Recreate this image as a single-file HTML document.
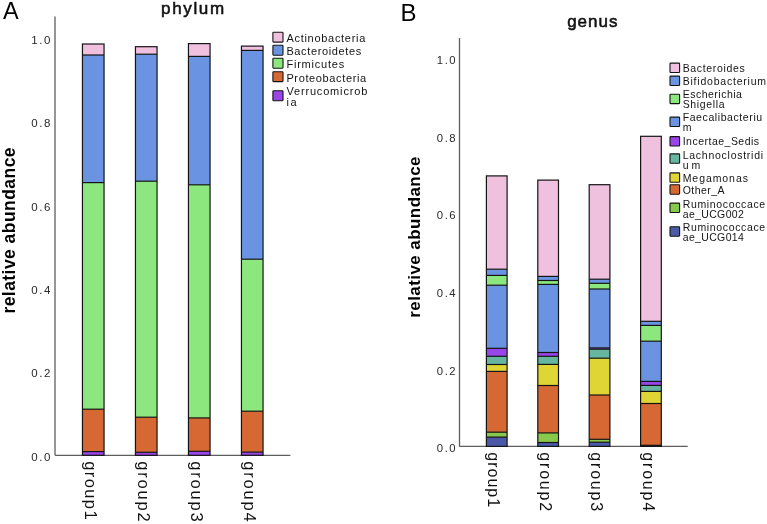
<!DOCTYPE html><html><head><meta charset="utf-8"><style>html,body{margin:0;padding:0;background:#fff;}svg{display:block;will-change:transform;}text{font-family:"Liberation Sans", sans-serif;}</style></head><body>
<svg width="767" height="524" viewBox="0 0 767 524">
<text x="3" y="18.6" font-size="23.5" fill="#000">A</text>
<text x="193.4" y="13.8" font-size="17" font-weight="normal" letter-spacing="1.65" stroke="#111" stroke-width="0.55" text-anchor="middle" fill="#111">phylum</text>
<line x1="55" y1="16.4" x2="55" y2="455.3" stroke="#5e5e5e" stroke-width="1.3"/>
<line x1="55" y1="455.3" x2="290.4" y2="455.3" stroke="#5e5e5e" stroke-width="1.3"/>
<text x="52.1" y="460.80" font-size="11.5" text-anchor="end" letter-spacing="1.6" fill="#2a2a2a">0.0</text>
<text x="52.1" y="377.40" font-size="11.5" text-anchor="end" letter-spacing="1.6" fill="#2a2a2a">0.2</text>
<text x="52.1" y="294.00" font-size="11.5" text-anchor="end" letter-spacing="1.6" fill="#2a2a2a">0.4</text>
<text x="52.1" y="210.60" font-size="11.5" text-anchor="end" letter-spacing="1.6" fill="#2a2a2a">0.6</text>
<text x="52.1" y="127.20" font-size="11.5" text-anchor="end" letter-spacing="1.6" fill="#2a2a2a">0.8</text>
<text x="52.1" y="43.80" font-size="11.5" text-anchor="end" letter-spacing="1.6" fill="#2a2a2a">1.0</text>
<rect x="82.45" y="44.00" width="21.60" height="11.00" fill="#efc1df"/>
<rect x="82.45" y="55.00" width="21.60" height="127.60" fill="#6a94e2"/>
<rect x="82.45" y="182.60" width="21.60" height="226.60" fill="#8ce87e"/>
<rect x="82.45" y="409.20" width="21.60" height="42.40" fill="#d66833"/>
<rect x="82.45" y="451.60" width="21.60" height="3.70" fill="#9a45ea"/>
<line x1="82.45" y1="55.00" x2="104.05" y2="55.00" stroke="#141414" stroke-width="1.2"/>
<line x1="82.45" y1="182.60" x2="104.05" y2="182.60" stroke="#141414" stroke-width="1.2"/>
<line x1="82.45" y1="409.20" x2="104.05" y2="409.20" stroke="#141414" stroke-width="1.2"/>
<line x1="82.45" y1="451.60" x2="104.05" y2="451.60" stroke="#141414" stroke-width="1.2"/>
<rect x="82.45" y="44.00" width="21.60" height="411.30" fill="none" stroke="#141414" stroke-width="1.2"/>
<rect x="135.45" y="46.70" width="21.60" height="7.50" fill="#efc1df"/>
<rect x="135.45" y="54.20" width="21.60" height="127.00" fill="#6a94e2"/>
<rect x="135.45" y="181.20" width="21.60" height="236.00" fill="#8ce87e"/>
<rect x="135.45" y="417.20" width="21.60" height="35.10" fill="#d66833"/>
<rect x="135.45" y="452.30" width="21.60" height="3.00" fill="#9a45ea"/>
<line x1="135.45" y1="54.20" x2="157.05" y2="54.20" stroke="#141414" stroke-width="1.2"/>
<line x1="135.45" y1="181.20" x2="157.05" y2="181.20" stroke="#141414" stroke-width="1.2"/>
<line x1="135.45" y1="417.20" x2="157.05" y2="417.20" stroke="#141414" stroke-width="1.2"/>
<line x1="135.45" y1="452.30" x2="157.05" y2="452.30" stroke="#141414" stroke-width="1.2"/>
<rect x="135.45" y="46.70" width="21.60" height="408.60" fill="none" stroke="#141414" stroke-width="1.2"/>
<rect x="188.45" y="43.60" width="21.60" height="12.80" fill="#efc1df"/>
<rect x="188.45" y="56.40" width="21.60" height="128.40" fill="#6a94e2"/>
<rect x="188.45" y="184.80" width="21.60" height="233.10" fill="#8ce87e"/>
<rect x="188.45" y="417.90" width="21.60" height="33.40" fill="#d66833"/>
<rect x="188.45" y="451.30" width="21.60" height="4.00" fill="#9a45ea"/>
<line x1="188.45" y1="56.40" x2="210.05" y2="56.40" stroke="#141414" stroke-width="1.2"/>
<line x1="188.45" y1="184.80" x2="210.05" y2="184.80" stroke="#141414" stroke-width="1.2"/>
<line x1="188.45" y1="417.90" x2="210.05" y2="417.90" stroke="#141414" stroke-width="1.2"/>
<line x1="188.45" y1="451.30" x2="210.05" y2="451.30" stroke="#141414" stroke-width="1.2"/>
<rect x="188.45" y="43.60" width="21.60" height="411.70" fill="none" stroke="#141414" stroke-width="1.2"/>
<rect x="241.45" y="46.10" width="21.60" height="4.30" fill="#efc1df"/>
<rect x="241.45" y="50.40" width="21.60" height="208.80" fill="#6a94e2"/>
<rect x="241.45" y="259.20" width="21.60" height="152.00" fill="#8ce87e"/>
<rect x="241.45" y="411.20" width="21.60" height="40.90" fill="#d66833"/>
<rect x="241.45" y="452.10" width="21.60" height="3.20" fill="#9a45ea"/>
<line x1="241.45" y1="50.40" x2="263.05" y2="50.40" stroke="#141414" stroke-width="1.2"/>
<line x1="241.45" y1="259.20" x2="263.05" y2="259.20" stroke="#141414" stroke-width="1.2"/>
<line x1="241.45" y1="411.20" x2="263.05" y2="411.20" stroke="#141414" stroke-width="1.2"/>
<line x1="241.45" y1="452.10" x2="263.05" y2="452.10" stroke="#141414" stroke-width="1.2"/>
<rect x="241.45" y="46.10" width="21.60" height="409.20" fill="none" stroke="#141414" stroke-width="1.2"/>
<text transform="translate(15.1,230.3) rotate(-90)" x="0" y="0" font-size="17.5" letter-spacing="0.45" font-weight="bold" text-anchor="middle" fill="#000">relative abundance</text>
<text transform="translate(85.20,461.2) rotate(90)" x="0" y="0" font-size="16.5" letter-spacing="1.4" fill="#111">group1</text>
<text transform="translate(138.10,461.2) rotate(90)" x="0" y="0" font-size="16.5" letter-spacing="1.8" fill="#111">group2</text>
<text transform="translate(191.00,461.2) rotate(90)" x="0" y="0" font-size="16.5" letter-spacing="1.8" fill="#111">group3</text>
<text transform="translate(243.90,461.2) rotate(90)" x="0" y="0" font-size="16.5" letter-spacing="1.8" fill="#111">group4</text>
<rect x="272.9" y="32.20" width="10.1" height="9.9" rx="0.6" fill="#efc1df" stroke="#141414" stroke-width="1.1"/>
<text x="286.4" y="42.10" font-size="11" letter-spacing="0.71" fill="#141414">Actinobacteria</text>
<rect x="272.9" y="45.30" width="10.1" height="9.9" rx="0.6" fill="#6a94e2" stroke="#141414" stroke-width="1.1"/>
<text x="286.4" y="55.00" font-size="11" letter-spacing="0.63" fill="#141414">Bacteroidetes</text>
<rect x="272.9" y="58.30" width="10.1" height="9.9" rx="0.6" fill="#8ce87e" stroke="#141414" stroke-width="1.1"/>
<text x="286.4" y="68.20" font-size="11" letter-spacing="0.79" fill="#141414">Firmicutes</text>
<rect x="272.9" y="71.70" width="10.1" height="9.9" rx="0.6" fill="#d66833" stroke="#141414" stroke-width="1.1"/>
<text x="286.4" y="81.50" font-size="11" letter-spacing="0.63" fill="#141414">Proteobacteria</text>
<rect x="272.9" y="90.80" width="10.1" height="9.9" rx="0.6" fill="#9a45ea" stroke="#141414" stroke-width="1.1"/>
<text x="286.4" y="94.70" font-size="11" letter-spacing="0.83" fill="#141414">Verrucomicrob</text>
<text x="286.4" y="105.60" font-size="11" letter-spacing="1.6" fill="#141414">ia</text>
<text x="400.4" y="20.5" font-size="24" fill="#000">B</text>
<text x="592.8" y="26.9" font-size="17" font-weight="normal" letter-spacing="1.0" stroke="#111" stroke-width="0.55" text-anchor="middle" fill="#111">genus</text>
<line x1="459.5" y1="38.1" x2="459.5" y2="446.4" stroke="#5e5e5e" stroke-width="1.3"/>
<line x1="459.5" y1="446.4" x2="687.7" y2="446.4" stroke="#5e5e5e" stroke-width="1.3"/>
<text x="457.2" y="452.20" font-size="11.3" text-anchor="end" letter-spacing="1.55" fill="#2a2a2a">0.0</text>
<text x="457.2" y="374.60" font-size="11.3" text-anchor="end" letter-spacing="1.55" fill="#2a2a2a">0.2</text>
<text x="457.2" y="297.00" font-size="11.3" text-anchor="end" letter-spacing="1.55" fill="#2a2a2a">0.4</text>
<text x="457.2" y="219.40" font-size="11.3" text-anchor="end" letter-spacing="1.55" fill="#2a2a2a">0.6</text>
<text x="457.2" y="141.80" font-size="11.3" text-anchor="end" letter-spacing="1.55" fill="#2a2a2a">0.8</text>
<text x="457.2" y="64.20" font-size="11.3" text-anchor="end" letter-spacing="1.55" fill="#2a2a2a">1.0</text>
<rect x="486.40" y="175.90" width="20.70" height="93.30" fill="#efc1df"/>
<rect x="486.40" y="269.20" width="20.70" height="6.20" fill="#6a94e2"/>
<rect x="486.40" y="275.40" width="20.70" height="9.80" fill="#8ce87e"/>
<rect x="486.40" y="285.20" width="20.70" height="63.10" fill="#6a94e2"/>
<rect x="486.40" y="348.30" width="20.70" height="8.00" fill="#9a45ea"/>
<rect x="486.40" y="356.30" width="20.70" height="8.20" fill="#66b6a0"/>
<rect x="486.40" y="364.50" width="20.70" height="6.90" fill="#dfd535"/>
<rect x="486.40" y="371.40" width="20.70" height="60.80" fill="#d66833"/>
<rect x="486.40" y="432.20" width="20.70" height="4.90" fill="#88c84a"/>
<rect x="486.40" y="437.10" width="20.70" height="9.30" fill="#4a5aa8"/>
<line x1="486.40" y1="269.20" x2="507.10" y2="269.20" stroke="#141414" stroke-width="1.2"/>
<line x1="486.40" y1="275.40" x2="507.10" y2="275.40" stroke="#141414" stroke-width="1.2"/>
<line x1="486.40" y1="285.20" x2="507.10" y2="285.20" stroke="#141414" stroke-width="1.2"/>
<line x1="486.40" y1="348.30" x2="507.10" y2="348.30" stroke="#141414" stroke-width="1.2"/>
<line x1="486.40" y1="356.30" x2="507.10" y2="356.30" stroke="#141414" stroke-width="1.2"/>
<line x1="486.40" y1="364.50" x2="507.10" y2="364.50" stroke="#141414" stroke-width="1.2"/>
<line x1="486.40" y1="371.40" x2="507.10" y2="371.40" stroke="#141414" stroke-width="1.2"/>
<line x1="486.40" y1="432.20" x2="507.10" y2="432.20" stroke="#141414" stroke-width="1.2"/>
<line x1="486.40" y1="437.10" x2="507.10" y2="437.10" stroke="#141414" stroke-width="1.2"/>
<rect x="486.40" y="175.90" width="20.70" height="270.50" fill="none" stroke="#141414" stroke-width="1.2"/>
<rect x="537.80" y="180.10" width="20.70" height="96.30" fill="#efc1df"/>
<rect x="537.80" y="276.40" width="20.70" height="4.10" fill="#6a94e2"/>
<rect x="537.80" y="280.50" width="20.70" height="3.90" fill="#8ce87e"/>
<rect x="537.80" y="284.40" width="20.70" height="68.10" fill="#6a94e2"/>
<rect x="537.80" y="352.50" width="20.70" height="3.80" fill="#9a45ea"/>
<rect x="537.80" y="356.30" width="20.70" height="8.10" fill="#66b6a0"/>
<rect x="537.80" y="364.40" width="20.70" height="21.10" fill="#dfd535"/>
<rect x="537.80" y="385.50" width="20.70" height="47.40" fill="#d66833"/>
<rect x="537.80" y="432.90" width="20.70" height="9.60" fill="#88c84a"/>
<rect x="537.80" y="442.50" width="20.70" height="3.90" fill="#4a5aa8"/>
<line x1="537.80" y1="276.40" x2="558.50" y2="276.40" stroke="#141414" stroke-width="1.2"/>
<line x1="537.80" y1="280.50" x2="558.50" y2="280.50" stroke="#141414" stroke-width="1.2"/>
<line x1="537.80" y1="284.40" x2="558.50" y2="284.40" stroke="#141414" stroke-width="1.2"/>
<line x1="537.80" y1="352.50" x2="558.50" y2="352.50" stroke="#141414" stroke-width="1.2"/>
<line x1="537.80" y1="356.30" x2="558.50" y2="356.30" stroke="#141414" stroke-width="1.2"/>
<line x1="537.80" y1="364.40" x2="558.50" y2="364.40" stroke="#141414" stroke-width="1.2"/>
<line x1="537.80" y1="385.50" x2="558.50" y2="385.50" stroke="#141414" stroke-width="1.2"/>
<line x1="537.80" y1="432.90" x2="558.50" y2="432.90" stroke="#141414" stroke-width="1.2"/>
<line x1="537.80" y1="442.50" x2="558.50" y2="442.50" stroke="#141414" stroke-width="1.2"/>
<rect x="537.80" y="180.10" width="20.70" height="266.30" fill="none" stroke="#141414" stroke-width="1.2"/>
<rect x="589.20" y="184.70" width="20.70" height="94.50" fill="#efc1df"/>
<rect x="589.20" y="279.20" width="20.70" height="4.10" fill="#6a94e2"/>
<rect x="589.20" y="283.30" width="20.70" height="5.70" fill="#8ce87e"/>
<rect x="589.20" y="289.00" width="20.70" height="58.90" fill="#6a94e2"/>
<rect x="589.20" y="347.90" width="20.70" height="1.30" fill="#9a45ea"/>
<rect x="589.20" y="349.20" width="20.70" height="9.00" fill="#66b6a0"/>
<rect x="589.20" y="358.20" width="20.70" height="36.80" fill="#dfd535"/>
<rect x="589.20" y="395.00" width="20.70" height="44.30" fill="#d66833"/>
<rect x="589.20" y="439.30" width="20.70" height="2.90" fill="#88c84a"/>
<rect x="589.20" y="442.20" width="20.70" height="4.20" fill="#4a5aa8"/>
<line x1="589.20" y1="279.20" x2="609.90" y2="279.20" stroke="#141414" stroke-width="1.2"/>
<line x1="589.20" y1="283.30" x2="609.90" y2="283.30" stroke="#141414" stroke-width="1.2"/>
<line x1="589.20" y1="289.00" x2="609.90" y2="289.00" stroke="#141414" stroke-width="1.2"/>
<line x1="589.20" y1="347.90" x2="609.90" y2="347.90" stroke="#141414" stroke-width="1.2"/>
<line x1="589.20" y1="349.20" x2="609.90" y2="349.20" stroke="#141414" stroke-width="1.2"/>
<line x1="589.20" y1="358.20" x2="609.90" y2="358.20" stroke="#141414" stroke-width="1.2"/>
<line x1="589.20" y1="395.00" x2="609.90" y2="395.00" stroke="#141414" stroke-width="1.2"/>
<line x1="589.20" y1="439.30" x2="609.90" y2="439.30" stroke="#141414" stroke-width="1.2"/>
<line x1="589.20" y1="442.20" x2="609.90" y2="442.20" stroke="#141414" stroke-width="1.2"/>
<rect x="589.20" y="184.70" width="20.70" height="261.70" fill="none" stroke="#141414" stroke-width="1.2"/>
<rect x="640.60" y="136.30" width="20.70" height="185.00" fill="#efc1df"/>
<rect x="640.60" y="321.30" width="20.70" height="4.10" fill="#6a94e2"/>
<rect x="640.60" y="325.40" width="20.70" height="15.80" fill="#8ce87e"/>
<rect x="640.60" y="341.20" width="20.70" height="40.20" fill="#6a94e2"/>
<rect x="640.60" y="381.40" width="20.70" height="4.00" fill="#9a45ea"/>
<rect x="640.60" y="385.40" width="20.70" height="6.00" fill="#66b6a0"/>
<rect x="640.60" y="391.40" width="20.70" height="12.10" fill="#dfd535"/>
<rect x="640.60" y="403.50" width="20.70" height="41.80" fill="#d66833"/>
<rect x="640.60" y="445.30" width="20.70" height="0.60" fill="#88c84a"/>
<rect x="640.60" y="445.90" width="20.70" height="0.50" fill="#4a5aa8"/>
<line x1="640.60" y1="321.30" x2="661.30" y2="321.30" stroke="#141414" stroke-width="1.2"/>
<line x1="640.60" y1="325.40" x2="661.30" y2="325.40" stroke="#141414" stroke-width="1.2"/>
<line x1="640.60" y1="341.20" x2="661.30" y2="341.20" stroke="#141414" stroke-width="1.2"/>
<line x1="640.60" y1="381.40" x2="661.30" y2="381.40" stroke="#141414" stroke-width="1.2"/>
<line x1="640.60" y1="385.40" x2="661.30" y2="385.40" stroke="#141414" stroke-width="1.2"/>
<line x1="640.60" y1="391.40" x2="661.30" y2="391.40" stroke="#141414" stroke-width="1.2"/>
<line x1="640.60" y1="403.50" x2="661.30" y2="403.50" stroke="#141414" stroke-width="1.2"/>
<line x1="640.60" y1="445.30" x2="661.30" y2="445.30" stroke="#141414" stroke-width="1.2"/>
<line x1="640.60" y1="445.90" x2="661.30" y2="445.90" stroke="#141414" stroke-width="1.2"/>
<rect x="640.60" y="136.30" width="20.70" height="310.10" fill="none" stroke="#141414" stroke-width="1.2"/>
<text transform="translate(420.2,236.9) rotate(-90)" x="0" y="0" font-size="17.0" letter-spacing="0.42" font-weight="bold" text-anchor="middle" fill="#000">relative abundance</text>
<text transform="translate(488.40,452.3) rotate(90)" x="0" y="0" font-size="16" letter-spacing="1.0" fill="#111">group1</text>
<text transform="translate(539.80,452.3) rotate(90)" x="0" y="0" font-size="16" letter-spacing="1.8" fill="#111">group2</text>
<text transform="translate(591.20,452.3) rotate(90)" x="0" y="0" font-size="16" letter-spacing="1.8" fill="#111">group3</text>
<text transform="translate(642.60,452.3) rotate(90)" x="0" y="0" font-size="16" letter-spacing="1.8" fill="#111">group4</text>
<rect x="670" y="63.10" width="9.6" height="9.4" rx="0.6" fill="#efc1df" stroke="#141414" stroke-width="1.1"/>
<text x="682.7" y="71.80" font-size="10.5" letter-spacing="0.65" fill="#141414">Bacteroides</text>
<rect x="670" y="76.10" width="9.6" height="9.4" rx="0.6" fill="#6a94e2" stroke="#141414" stroke-width="1.1"/>
<text x="682.7" y="84.60" font-size="10.5" letter-spacing="0.79" fill="#141414">Bifidobacterium</text>
<rect x="670" y="94.20" width="9.6" height="9.4" rx="0.6" fill="#8ce87e" stroke="#141414" stroke-width="1.1"/>
<text x="682.7" y="97.80" font-size="10.5" letter-spacing="0.5" fill="#141414">Escherichia</text>
<text x="682.7" y="107.80" font-size="10.5" letter-spacing="0.66" fill="#141414">Shigella</text>
<rect x="670" y="117.10" width="9.6" height="9.4" rx="0.6" fill="#6a94e2" stroke="#141414" stroke-width="1.1"/>
<text x="682.7" y="120.90" font-size="10.5" letter-spacing="0.59" fill="#141414">Faecalibacteriu</text>
<text x="682.7" y="131.30" font-size="10.5" letter-spacing="0.5" fill="#141414">m</text>
<rect x="670" y="136.60" width="9.6" height="9.4" rx="0.6" fill="#9a45ea" stroke="#141414" stroke-width="1.1"/>
<text x="682.7" y="144.90" font-size="10.5" letter-spacing="0.49" fill="#141414">Incertae_Sedis</text>
<rect x="670" y="153.90" width="9.6" height="9.4" rx="0.6" fill="#66b6a0" stroke="#141414" stroke-width="1.1"/>
<text x="682.7" y="158.70" font-size="10.5" letter-spacing="0.74" fill="#141414">Lachnoclostridi</text>
<text x="682.7" y="168.80" font-size="10.5" letter-spacing="0.0" fill="#141414">u m</text>
<rect x="670" y="172.90" width="9.6" height="9.4" rx="0.6" fill="#dfd535" stroke="#141414" stroke-width="1.1"/>
<text x="682.7" y="181.60" font-size="10.5" letter-spacing="0.93" fill="#141414">Megamonas</text>
<rect x="670" y="184.80" width="9.6" height="9.4" rx="0.6" fill="#d66833" stroke="#141414" stroke-width="1.1"/>
<text x="682.7" y="194.20" font-size="10.5" letter-spacing="0.45" fill="#141414">Other_A</text>
<rect x="670" y="203.10" width="9.6" height="9.4" rx="0.6" fill="#88c84a" stroke="#141414" stroke-width="1.1"/>
<text x="682.7" y="207.50" font-size="10.5" letter-spacing="0.65" fill="#141414">Ruminococcace</text>
<text x="682.7" y="218.10" font-size="10.5" letter-spacing="0.35" fill="#141414">ae_UCG002</text>
<rect x="670" y="226.80" width="9.6" height="9.4" rx="0.6" fill="#4a5aa8" stroke="#141414" stroke-width="1.1"/>
<text x="682.7" y="230.80" font-size="10.5" letter-spacing="0.65" fill="#141414">Ruminococcace</text>
<text x="682.7" y="241.30" font-size="10.5" letter-spacing="0.35" fill="#141414">ae_UCG014</text>
</svg></body></html>
